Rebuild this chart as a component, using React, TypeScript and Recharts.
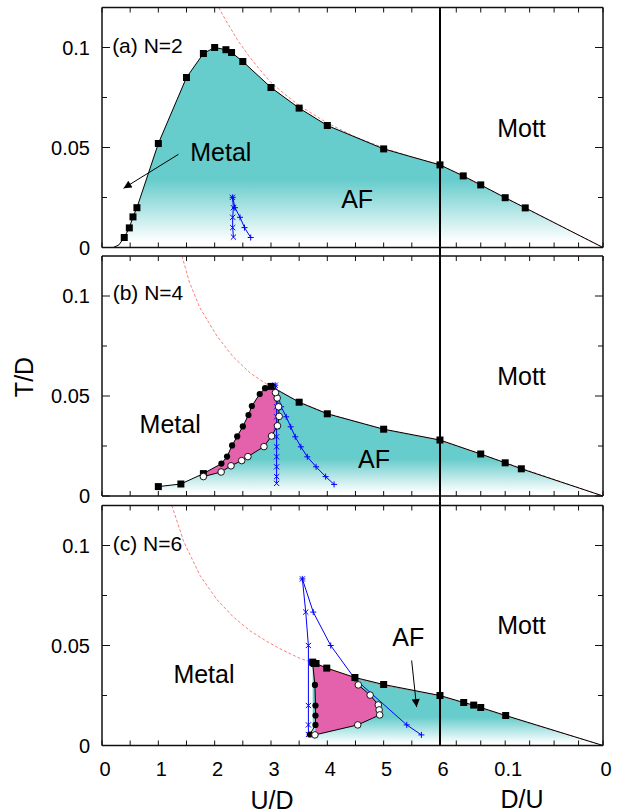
import React from "react";
import {
  ComposedChart,
  XAxis,
  YAxis,
  Line,
  Area,
  Scatter,
  ReferenceLine,
  ReferenceDot,
} from "recharts";

// x axis: U/D from 0 to 6, then D/U from 1/6 down to 0
const XMAX = 8.894;
const RIGHT = XMAX - 6;
const toX = (d: number) => 6 + (1 - 6 * d) * RIGHT;

const uTicks = [0, 0.5, 1, 1.5, 2, 2.5, 3, 3.5, 4, 4.5, 5, 5.5, 6];
const dTicks = [0.15, 0.125, 0.1, 0.075, 0.05, 0.025, 0];
const uTickLabels = [0, 1, 2, 3, 4, 5, 6];
const dTickLabels = [0.1, 0];
const yTicks = [0, 0.025, 0.05, 0.075, 0.1];
const yTickLabels = [0, 0.05, 0.1];

// ---- (a) N=2 ----
const aLineU = [0.2, 0.3];
const aLineT = [0, 0.0013];
const aSqU = [0.395, 0.485, 0.55, 0.62, 1.0, 1.5, 1.8, 2.0, 2.2, 2.3, 2.5, 3.0, 3.5, 4.0, 5.0, 6.0];
const aSqT = [0.005, 0.0098, 0.0153, 0.0199, 0.052, 0.085, 0.097, 0.1, 0.0989, 0.0975, 0.093, 0.08, 0.0697, 0.061, 0.0493, 0.0413];
const aSqD = [0.1429, 0.125, 0.1, 0.0795];
const aSqDT = [0.0358, 0.0313, 0.0249, 0.0198];
const aRedU = [2.07, 2.2, 2.4, 2.6, 2.8, 3.0, 3.25, 3.5, 4.0, 4.5, 5.0, 5.5, 6.0];
const aRedT = [0.12, 0.1135, 0.104, 0.096, 0.089, 0.0825, 0.0765, 0.071, 0.0622, 0.0553, 0.0498, 0.0452, 0.0414];
const aRedD = [0.1667, 0];
const aRedDT = [0.0414, 0];
const aBlueXU = [2.316, 2.333, 2.32, 2.32, 2.333];
const aBlueXT = [0.0251, 0.0199, 0.0151, 0.00995, 0.0052];
const aBluePU = [2.32, 2.36, 2.45, 2.53, 2.64];
const aBluePT = [0.0251, 0.0199, 0.0151, 0.00995, 0.005];

// ---- (b) N=4 ----
const bSqU = [1.0, 1.4, 1.8, 3.0, 3.5, 4.0, 5.0, 6.0];
const bSqT = [0.0047, 0.006, 0.0112, 0.0548, 0.0469, 0.0411, 0.0334, 0.028];
const bSqD = [0.125, 0.1, 0.0835];
const bSqDT = [0.021, 0.0166, 0.0136];
const bBlackU = [2.12, 2.22, 2.31, 2.4, 2.5, 2.6, 2.66, 2.8, 2.895];
const bBlackT = [0.0162, 0.0197, 0.0253, 0.0298, 0.0348, 0.0405, 0.045, 0.051, 0.0539];
const bWhiteU = [1.8, 2.115, 2.29, 2.48, 2.59, 2.875, 3.01, 3.115, 3.145, 3.135, 3.11, 3.08];
const bWhiteT = [0.0097, 0.012, 0.0151, 0.0177, 0.0197, 0.0247, 0.03, 0.0351, 0.0398, 0.0446, 0.049, 0.0517];
const bRedU = [1.42, 1.55, 1.74, 2.04, 2.33, 2.63, 2.93, 3.0, 3.5, 4.0, 5.0, 6.0];
const bRedT = [0.12, 0.107, 0.094, 0.08, 0.0695, 0.0615, 0.0558, 0.0548, 0.047, 0.0413, 0.0332, 0.0278];
const bRedD = [0.1667, 0];
const bRedDT = [0.0278, 0];
const bBlueXU = [3.075, 3.1, 3.1, 3.1, 3.1, 3.1, 3.1, 3.1, 3.1, 3.1];
const bBlueXT = [0.0554, 0.0446, 0.0396, 0.0346, 0.0296, 0.0246, 0.0196, 0.0146, 0.0097, 0.0063];
const bBluePU = [3.075, 3.18, 3.27, 3.35, 3.43, 3.53, 3.645, 3.8, 3.97, 4.12];
const bBluePT = [0.0554, 0.0446, 0.0396, 0.0346, 0.0296, 0.0246, 0.0196, 0.0146, 0.0097, 0.0058];

// ---- (c) N=6 ----
const cSqU = [3.74, 3.8, 3.99, 4.49, 5.0, 6.0];
const cSqT = [0.0417, 0.041, 0.0387, 0.034, 0.0305, 0.025];
const cSqD = [0.1424, 0.1322, 0.125, 0.0995];
const cSqDT = [0.0215, 0.0202, 0.019, 0.015];
const cBlackU = [3.74, 3.78, 3.79, 3.79, 3.79, 3.69];
const cBlackT = [0.0408, 0.0303, 0.02, 0.015, 0.0103, 0.0055];
const cWhiteU = [4.55, 4.76, 4.905, 4.92, 4.93, 4.54, 3.78];
const cWhiteT = [0.0303, 0.0252, 0.0203, 0.0178, 0.0153, 0.0103, 0.0053];
const cRedU = [1.24, 1.45, 1.74, 2.04, 2.33, 2.63, 2.93, 3.22, 3.52, 3.74, 4.0, 4.5, 5.0, 6.0];
const cRedT = [0.12, 0.102, 0.085, 0.073, 0.0643, 0.0573, 0.052, 0.0475, 0.0435, 0.0415, 0.0383, 0.0334, 0.0301, 0.0248];
const cRedD = [0.1667, 0];
const cRedDT = [0.0248, 0];
const cBlueXU = [3.557, 3.617, 3.664, 3.664, 3.664, 3.664];
const cBlueXT = [0.0833, 0.0667, 0.05, 0.02, 0.0103, 0.0055];
const cBluePU = [3.557, 3.75, 4.06, 4.49, 5.41, 5.67];
const cBluePT = [0.0833, 0.0667, 0.05, 0.0333, 0.0103, 0.0053];

const FONT = "'Liberation Sans', Arial, Helvetica, sans-serif";
const TEAL = "#66cccc";
const PINK = "#e462ac";
const BLUE = "#0000ff";
const RED = "#ff5c5c";
const INK = "#111";
const TM = 10;

type P = { x: number; y: number };
const pts = (u: number[], t: number[], d: number[] = [], dt: number[] = []): P[] => [
  ...u.map((x, i) => ({ x, y: t[i] })),
  ...d.map((v, i) => ({ x: toX(v), y: dt[i] })),
];

const xTicks = [...uTicks, ...dTicks.map(toX)];
const near = (a: number, b: number) => Math.abs(a - b) < 1e-6;
const xLabel = (v: number) => {
  const u = uTickLabels.find((k) => near(k, v));
  if (u !== undefined) return String(u);
  const d = dTickLabels.find((k) => near(toX(k), v));
  return d !== undefined ? String(d) : "";
};
const yLabel = (v: number) => {
  const k = yTickLabels.find((t) => near(t, v));
  return k !== undefined ? String(k) : "";
};

const makeXTick = (side: "top" | "bottom", labels: boolean) => (p: any) => {
  const v = p.payload.value;
  const y0 = side === "bottom" ? p.y - TM : p.y + TM;
  const y1 = side === "bottom" ? y0 - 5 : y0 + 5;
  const txt = labels ? xLabel(v) : "";
  return (
    <g>
      <line x1={p.x} x2={p.x} y1={y0} y2={y1} stroke={INK} strokeWidth={1} />
      {txt && (
        <text x={p.x + 3} y={y0 + 23} dominantBaseline="central" textAnchor="middle" fontSize={20} fontFamily={FONT} fill="#000">
          {txt}
        </text>
      )}
    </g>
  );
};

const makeYTick = (side: "left" | "right") => (p: any) => {
  const v = p.payload.value;
  const txt = yLabel(v);
  const len = txt ? 8 : 5;
  const x0 = side === "left" ? p.x + TM : p.x - TM;
  const x1 = side === "left" ? x0 + len : x0 - len;
  return (
    <g>
      <line x1={x0} x2={x1} y1={p.y} y2={p.y} stroke={INK} strokeWidth={1} />
      {side === "left" && txt && (
        <text x={x0 - 12} y={p.y} dominantBaseline="central" textAnchor="end" fontSize={20} fontFamily={FONT} fill="#000">
          {txt}
        </text>
      )}
    </g>
  );
};

const Square = (p: any) => <rect x={p.cx - 3.5} y={p.cy - 3.5} width={7} height={7} fill="#000" />;
const Dot = (p: any) => <circle cx={p.cx} cy={p.cy} r={3.1} fill="#000" />;
const Ring = (p: any) => <circle cx={p.cx} cy={p.cy} r={3.3} fill="#fff" stroke="#000" strokeWidth={0.9} />;
const Cross = (p: any) => (
  <path
    d={`M${p.cx - 2.6},${p.cy - 2.6}L${p.cx + 2.6},${p.cy + 2.6}M${p.cx - 2.6},${p.cy + 2.6}L${p.cx + 2.6},${p.cy - 2.6}`}
    stroke={BLUE}
    strokeWidth={1}
  />
);
const Plus = (p: any) => (
  <path d={`M${p.cx - 3},${p.cy}L${p.cx + 3},${p.cy}M${p.cx},${p.cy - 3}L${p.cx},${p.cy + 3}`} stroke={BLUE} strokeWidth={1} />
);

const squaresA = pts(aSqU, aSqT, aSqD, aSqDT);
const squaresB = pts(bSqU, bSqT, bSqD, bSqDT);
const squaresC = pts(cSqU, cSqT, cSqD, cSqDT);
const blackB = pts(bBlackU, bBlackT);
const whiteB = pts(bWhiteU, bWhiteT);
const blackC = pts(cBlackU, cBlackT);
const whiteC = pts(cWhiteU, cWhiteT);

const boundaryA = [...pts(aLineU, aLineT), ...pts(aSqU, aSqT, [...aSqD, 0], [...aSqDT, 0])];
const boundaryB = [
  ...pts(bSqU.slice(0, 3), bSqT.slice(0, 3)),
  ...blackB,
  ...pts(bSqU.slice(3), bSqT.slice(3), [...bSqD, 0], [...bSqDT, 0]),
];
const boundaryC = pts(cSqU, cSqT, [...cSqD, 0], [...cSqDT, 0]);

const panels = [
  {
    id: "a",
    top: 0,
    height: 252,
    mTop: 6.5,
    bottomH: 4.5,
    xLabels: false,
    vline: [-0.004, 0.12],
    teal: boundaryA,
    pink: null as P[] | null,
    boundary: boundaryA,
    squares: squaresA,
    blackDots: [] as P[],
    whiteDots: [] as P[],
    extraLines: [] as P[][],
    red: pts(aRedU, aRedT, aRedD, aRedDT),
    blueX: pts(aBlueXU, aBlueXT),
    blueP: pts(aBluePU, aBluePT),
    arrows: [[{ x: 1.358, y: 0.0466 }, { x: 0.383, y: 0.0296 }]],
    texts: [
      { x: 0.18, y: 0.1008, text: "(a) N=2", size: 21, pos: "right" },
      { x: 2.11, y: 0.0478, text: "Metal", size: 25, pos: "center" },
      { x: 4.53, y: 0.0242, text: "AF", size: 25, pos: "center" },
      { x: toX(1 / 12), y: 0.0599, text: "Mott", size: 25, pos: "center" },
    ],
  },
  {
    id: "b",
    top: 252,
    height: 248.5,
    mTop: 3,
    bottomH: 4.5,
    xLabels: false,
    vline: [-0.004, 0.124],
    teal: boundaryB,
    pink: [...pts([1.8], [0.0112]), ...blackB, ...pts([3.0], [0.0548]), ...[...whiteB].reverse()],
    boundary: boundaryB,
    squares: squaresB,
    blackDots: blackB,
    whiteDots: whiteB,
    extraLines: [[...whiteB, ...pts([3.0], [0.0548])]],
    red: pts(bRedU, bRedT, bRedD, bRedDT),
    blueX: pts(bBlueXU, bBlueXT),
    blueP: pts(bBluePU, bBluePT),
    arrows: [] as P[][],
    texts: [
      { x: 0.19, y: 0.1015, text: "(b) N=4", size: 21, pos: "right" },
      { x: 1.21, y: 0.0359, text: "Metal", size: 25, pos: "center" },
      { x: 4.83, y: 0.0183, text: "AF", size: 25, pos: "center" },
      { x: toX(1 / 12), y: 0.0599, text: "Mott", size: 25, pos: "center" },
    ],
  },
  {
    id: "c",
    top: 500.5,
    height: 311.5,
    mTop: 3.5,
    bottomH: 67,
    xLabels: true,
    vline: [0, 0.124],
    teal: boundaryC,
    pink: [...pts(cSqU.slice(0, 4), cSqT.slice(0, 4)), ...whiteC, ...blackC.slice(0, 5).reverse()],
    boundary: boundaryC,
    squares: squaresC,
    blackDots: blackC,
    whiteDots: whiteC,
    extraLines: [
      [...pts([3.74], [0.0417]), ...blackC],
      [...pts([4.49], [0.034]), ...whiteC],
    ],
    red: pts(cRedU, cRedT, cRedD, cRedDT),
    blueX: pts(cBlueXU, cBlueXT),
    blueP: pts(cBluePU, cBluePT),
    arrows: [[{ x: 5.497, y: 0.0425 }, { x: 5.585, y: 0.0192 }]],
    texts: [
      { x: 0.19, y: 0.1008, text: "(c) N=6", size: 21, pos: "right" },
      { x: 1.81, y: 0.0358, text: "Metal", size: 25, pos: "center" },
      { x: 5.436, y: 0.0542, text: "AF", size: 25, pos: "center" },
      { x: toX(1 / 12), y: 0.06, text: "Mott", size: 25, pos: "center" },
    ],
  },
];

const Panel = ({ cfg }: { cfg: (typeof panels)[number] }) => {
  const id = cfg.id;
  return (
    <div style={{ position: "absolute", left: 0, top: cfg.top }}>
      <ComposedChart width={620} height={cfg.height} margin={{ top: cfg.mTop, right: 0, bottom: 0, left: 0 }}>
        <defs>
          <linearGradient id={`teal-${id}`} x1="0" y1="0" x2="0" y2="1">
            <stop offset="0%" stopColor={TEAL} />
            <stop offset="66%" stopColor={TEAL} />
            <stop offset="97%" stopColor="#ffffff" />
            <stop offset="100%" stopColor="#ffffff" />
          </linearGradient>
          <marker id={`arr-${id}`} viewBox="0 0 10 10" refX="10" refY="5" markerWidth="13" markerHeight="8" markerUnits="userSpaceOnUse" orient="auto">
            <path d="M0,0 L10,5 L0,10 z" fill="#000" />
          </marker>
        </defs>
        <XAxis
          dataKey="x"
          type="number"
          domain={[0, XMAX]}
          allowDataOverflow
          ticks={xTicks}
          interval={0}
          height={cfg.bottomH}
          tickSize={0}
          tickMargin={TM}
          tickLine={false}
          axisLine={{ stroke: INK, strokeWidth: 1.5 }}
          tick={makeXTick("bottom", cfg.xLabels)}
        />
        <XAxis
          xAxisId="top"
          orientation="top"
          dataKey="x"
          type="number"
          domain={[0, XMAX]}
          allowDataOverflow
          ticks={xTicks}
          interval={0}
          height={1}
          tickSize={0}
          tickMargin={TM}
          tickLine={false}
          axisLine={{ stroke: INK, strokeWidth: 1.5 }}
          tick={makeXTick("top", false)}
        />
        <YAxis
          dataKey="y"
          type="number"
          domain={[0, 0.12]}
          allowDataOverflow
          ticks={yTicks}
          interval={0}
          width={102}
          tickSize={0}
          tickMargin={TM}
          tickLine={false}
          axisLine={{ stroke: INK, strokeWidth: 1.5 }}
          tick={makeYTick("left")}
        />
        <YAxis
          yAxisId="right"
          orientation="right"
          dataKey="y"
          type="number"
          domain={[0, 0.12]}
          allowDataOverflow
          ticks={yTicks}
          interval={0}
          width={17}
          tickSize={0}
          tickMargin={TM}
          tickLine={false}
          axisLine={{ stroke: INK, strokeWidth: 1.5 }}
          tick={makeYTick("right")}
        />

        <Area data={cfg.teal} dataKey="y" type="linear" stroke="none" fill={`url(#teal-${id})`} fillOpacity={1} dot={false} activeDot={false} isAnimationActive={false} />
        {cfg.pink && (
          <Area data={cfg.pink} dataKey="y" type="linear" stroke="none" fill={PINK} fillOpacity={1} dot={false} activeDot={false} isAnimationActive={false} />
        )}

        <Line data={cfg.red} dataKey="y" type="linear" stroke={RED} strokeWidth={0.8} strokeDasharray="3 2" dot={false} activeDot={false} isAnimationActive={false} />
        <Line data={cfg.boundary} dataKey="y" type="linear" stroke="#000" strokeWidth={1} dot={false} activeDot={false} isAnimationActive={false} />
        {cfg.extraLines.map((l, i) => (
          <Line key={`el${i}`} data={l} dataKey="y" type="linear" stroke="#000" strokeWidth={1} dot={false} activeDot={false} isAnimationActive={false} />
        ))}
        <Line data={cfg.blueX} dataKey="y" type="linear" stroke={BLUE} strokeWidth={1} dot={false} activeDot={false} isAnimationActive={false} />
        <Line data={cfg.blueP} dataKey="y" type="linear" stroke={BLUE} strokeWidth={1} dot={false} activeDot={false} isAnimationActive={false} />

        <ReferenceLine segment={[{ x: 6, y: cfg.vline[0] }, { x: 6, y: cfg.vline[1] }]} stroke="#000" strokeWidth={2} ifOverflow="visible" />

        {cfg.arrows.map((a, i) => (
          <Line key={`ar${i}`} data={a} dataKey="y" type="linear" stroke="#000" strokeWidth={1} dot={false} activeDot={false} markerEnd={`url(#arr-${id})`} isAnimationActive={false} />
        ))}

        <Scatter data={cfg.blueX} dataKey="y" shape={Cross} isAnimationActive={false} />
        <Scatter data={cfg.blueP} dataKey="y" shape={Plus} isAnimationActive={false} />
        <Scatter data={cfg.squares} dataKey="y" shape={Square} isAnimationActive={false} />
        <Scatter data={cfg.blackDots} dataKey="y" shape={Dot} isAnimationActive={false} />
        <Scatter data={cfg.whiteDots} dataKey="y" shape={Ring} isAnimationActive={false} />

        {cfg.texts.map((t, i) => (
          <ReferenceDot
            key={`t${i}`}
            x={t.x}
            y={t.y}
            r={0}
            fill="none"
            stroke="none"
            ifOverflow="visible"
            label={{ value: t.text, position: t.pos as any, offset: 0, fontSize: t.size, fill: "#000", fontFamily: FONT }}
          />
        ))}
      </ComposedChart>
    </div>
  );
};

const titleStyle: React.CSSProperties = {
  position: "absolute",
  fontFamily: FONT,
  fontSize: 25,
  color: "#000",
  transform: "translate(-50%, -50%)",
  whiteSpace: "nowrap",
  lineHeight: 1,
};

export default function App() {
  return (
    <div style={{ position: "absolute", left: 0, top: 0, width: 620, height: 812, background: "#fff" }}>
      <style>{`.recharts-surface, .recharts-wrapper { overflow: visible !important; }`}</style>
      {panels.map((p) => (
        <Panel key={p.id} cfg={p} />
      ))}
      <div style={{ ...titleStyle, left: 24, top: 377, transform: "translate(-50%, -50%) rotate(-90deg)" }}>T/D</div>
      <div style={{ ...titleStyle, left: 272, top: 800 }}>U/D</div>
      <div style={{ ...titleStyle, left: 522, top: 799 }}>D/U</div>
    </div>
  );
}
